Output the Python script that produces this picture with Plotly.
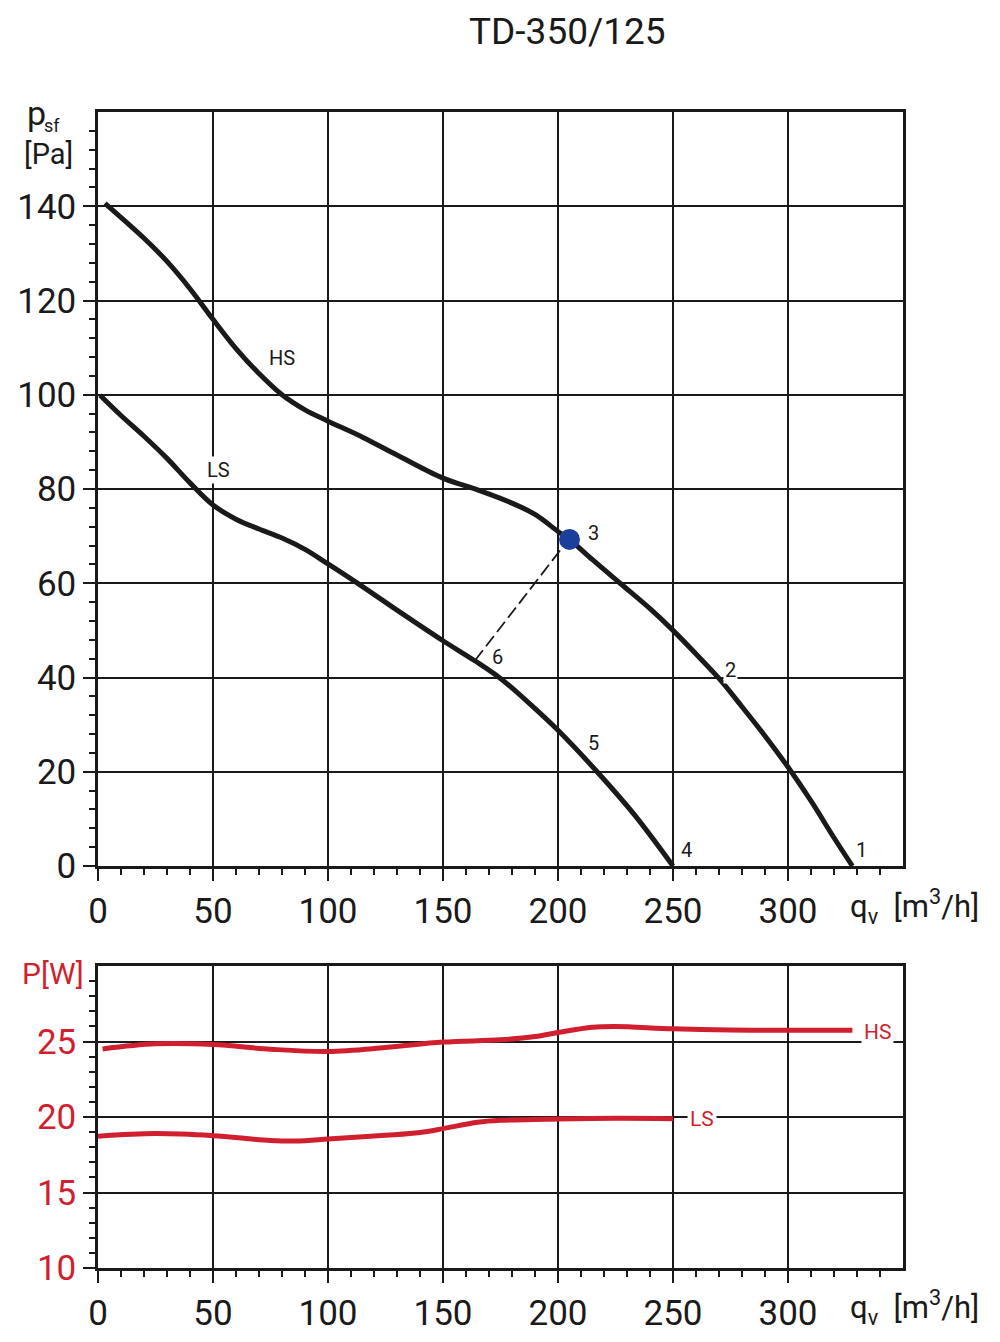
import plotly.graph_objects as go

# ---------------- data ----------------
title_text = "TD-350/125"

# Pressure curves (top chart), q [m3/h] vs psf [Pa]
hs_q = [3, 20, 30, 40, 50, 60, 70, 80, 90, 100, 115, 130, 150, 165, 180, 190, 200, 205, 215, 227,
        240, 250, 260, 270, 280, 290, 300, 310, 320, 328]
hs_p = [140.6, 133.2, 128.3, 122.5, 116, 109.8, 104.5, 100, 96.8, 94.4, 91, 87.2, 82.3, 79.8, 77, 74.6, 71, 69.3,
        65, 60, 54.6, 50, 45, 39.8, 33.8, 27.6, 21, 13.8, 6, 0]

ls_q = [0.9, 10, 20, 30, 40, 50, 60, 70, 80, 90, 100, 115, 130, 150, 164, 175, 188, 200, 217, 233, 250]
ls_p = [99.9, 95.6, 91.2, 86.5, 81.3, 76.6, 73.6, 71.5, 69.6, 67.2, 64.1, 59.3, 54.3, 47.8, 43.5, 39.8,
        34.3, 28.8, 20, 11, 0]

# operating point 3 and point 6 (connected by dashed line)
op_q, op_p = 205, 69.3
p6_q, p6_p = 163.9, 43.6
dash_end_q, dash_end_p = 201.6, 67.4

# Power curves (bottom chart), q [m3/h] vs P [W]
hsw_q = [2, 25, 50, 75, 100, 125, 150, 175, 190, 200, 215, 225, 250, 275, 300, 328]
hsw_p = [24.51, 24.85, 24.8, 24.49, 24.34, 24.6, 24.96, 25.11, 25.33, 25.6, 25.95, 26.0, 25.84, 25.76, 25.75, 25.75]

lsw_q = [0, 25, 50, 75, 90, 100, 125, 140, 150, 165, 175, 200, 225, 250]
lsw_p = [18.72, 18.9, 18.76, 18.45, 18.43, 18.54, 18.79, 18.98, 19.23, 19.65, 19.78, 19.87, 19.91, 19.89]

x_ticks = [0, 50, 100, 150, 200, 250, 300]
y_ticks_top = [0, 20, 40, 60, 80, 100, 120, 140]
y_ticks_bot = [10, 15, 20, 25]

# curve labels (text, q, value)
top_labels = [("HS", 79.9, 107.7), ("LS", 52.6, 84), ("3", 215.4, 70.6), ("2", 275.2, 41.6),
              ("6", 173.6, 44.3), ("5", 215.4, 26.2), ("4", 256, 3.4), ("1", 332, 3.5)]
bot_labels = [("HS", 338.7, 25.6), ("LS", 262.8, 19.9)]

# ---------------- style ----------------
BLACK = "#1a1a1a"
RED = "#d01f2e"
BLUE = "#1c3f9c"
FONT = "Roboto"
H = 1342

fig = go.Figure()

curve_line = dict(color=BLACK, width=5, shape="spline", smoothing=1.0)
fig.add_trace(go.Scatter(x=hs_q, y=hs_p, mode="lines", line=curve_line, xaxis="x", yaxis="y", hoverinfo="skip"))
fig.add_trace(go.Scatter(x=ls_q, y=ls_p, mode="lines", line=curve_line, xaxis="x", yaxis="y", hoverinfo="skip"))
fig.add_trace(go.Scatter(x=[p6_q, dash_end_q], y=[p6_p, dash_end_p], mode="lines",
                         line=dict(color=BLACK, width=1.8, dash="13px,5px"), xaxis="x", yaxis="y", hoverinfo="skip"))
fig.add_trace(go.Scatter(x=[op_q], y=[op_p], mode="markers", marker=dict(color=BLUE, size=21),
                         xaxis="x", yaxis="y", hoverinfo="skip"))

red_line = dict(color=RED, width=5, shape="spline", smoothing=1.0)
fig.add_trace(go.Scatter(x=hsw_q, y=hsw_p, mode="lines", line=red_line, xaxis="x2", yaxis="y2", hoverinfo="skip"))
fig.add_trace(go.Scatter(x=lsw_q, y=lsw_p, mode="lines", line=red_line, xaxis="x2", yaxis="y2", hoverinfo="skip"))

minor_x = [v for v in range(0, 350, 10) if v % 50]
minor_y_top = [v for v in range(0, 160, 4) if v % 20]
minor_y_bot = [v for v in range(10, 30) if v % 5]


def axis_common(tickcolor_font):
    return dict(ticks="outside", ticklen=12, tickwidth=2, tickcolor=BLACK,
                showgrid=True, gridcolor=BLACK, gridwidth=2, showline=True, linecolor=BLACK, linewidth=2.5,
                mirror=True, zeroline=False, automargin=False, fixedrange=True,
                tickfont=dict(family=FONT, size=35, color=tickcolor_font))


dom_x = [0.098, 0.903]
fig.update_layout(
    width=1000, height=H, margin=dict(l=0, r=0, t=0, b=0, autoexpand=False),
    paper_bgcolor="white", plot_bgcolor="white", showlegend=False,
    font=dict(family=FONT, color=BLACK),
    xaxis=dict(domain=dom_x, anchor="y", range=[0, 350], tickvals=x_ticks,
               minor=dict(tickvals=minor_x, ticks="outside", ticklen=6, tickwidth=2, tickcolor=BLACK, showgrid=False),
               **axis_common(BLACK)),
    yaxis=dict(domain=[1 - 866 / H, 1 - 112 / H], anchor="x", range=[0, 160], tickvals=y_ticks_top,
               minor=dict(tickvals=minor_y_top, ticks="outside", ticklen=6, tickwidth=2, tickcolor=BLACK, showgrid=False),
               **axis_common(BLACK)),
    xaxis2=dict(domain=dom_x, anchor="y2", range=[0, 350], tickvals=x_ticks,
                minor=dict(tickvals=minor_x, ticks="outside", ticklen=6, tickwidth=2, tickcolor=BLACK, showgrid=False),
                **axis_common(BLACK)),
    yaxis2=dict(domain=[1 - 1268 / H, 1 - 966 / H], anchor="x2", range=[10, 30], tickvals=y_ticks_bot,
                minor=dict(tickvals=minor_y_bot, ticks="outside", ticklen=6, tickwidth=2, tickcolor=BLACK, showgrid=False),
                **axis_common(RED)),
)

annotations = []
annotations.append(dict(text=title_text, xref="paper", yref="paper", x=0.567, y=1 - 32 / H, showarrow=False,
                        font=dict(family=FONT, size=37, color=BLACK), xanchor="center", yanchor="middle"))
for t, xq, yv in top_labels:
    annotations.append(dict(text=t, x=xq, y=yv, xref="x", yref="y", showarrow=False,
                            font=dict(family=FONT, size=20, color=BLACK),
                            bgcolor="white" if t in ("2", "LS") else None, borderpad=1))
for t, xq, yv in bot_labels:
    annotations.append(dict(text=t, x=xq, y=yv, xref="x2", yref="y2", showarrow=False,
                            font=dict(family=FONT, size=21, color=RED), bgcolor="white", borderpad=2))

# axis titles
annotations.append(dict(text="p", xref="paper", yref="paper", x=0.025, y=1 - 113 / H,
                        showarrow=False, xanchor="left", yanchor="middle", font=dict(family=FONT, size=34, color=BLACK)))
annotations.append(dict(text="sf", xref="paper", yref="paper", x=0.042, y=1 - 126 / H,
                        showarrow=False, xanchor="left", yanchor="middle", font=dict(family=FONT, size=18, color=BLACK)))
annotations.append(dict(text="[Pa]", xref="paper", yref="paper", x=0.022, y=1 - 154 / H,
                        showarrow=False, xanchor="left", yanchor="middle", font=dict(family=FONT, size=29, color=BLACK)))
for yy in (906, 1307):
    annotations.append(dict(text="q<sub>v</sub>  [m<sup>3</sup>/h]", xref="paper", yref="paper", x=0.848, y=1 - yy / H,
                            showarrow=False, xanchor="left", yanchor="middle", font=dict(family=FONT, size=31, color=BLACK)))
annotations.append(dict(text="P[W]", xref="paper", yref="paper", x=0.020, y=1 - 973 / H,
                        showarrow=False, xanchor="left", yanchor="middle", font=dict(family=FONT, size=30, color=RED)))
fig.update_layout(annotations=annotations)

fig.write_html("out.html", config={"displayModeBar": False},
               post_script="document.body.style.margin='0';document.body.style.padding='0';")
